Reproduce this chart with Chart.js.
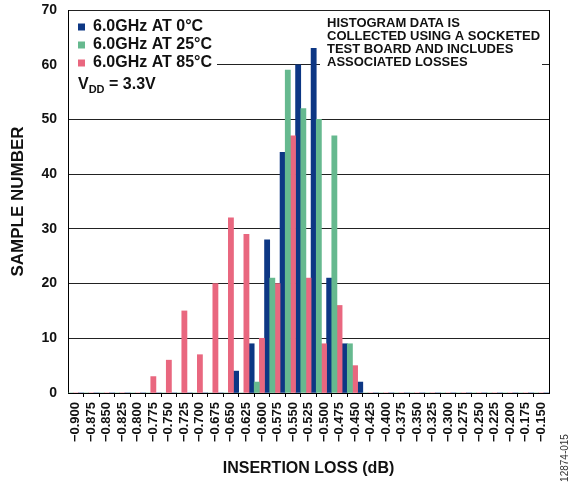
<!DOCTYPE html>
<html>
<head>
<meta charset="utf-8">
<script src="https://cdn.jsdelivr.net/npm/chart.js@4"></script>
<style>
  body { margin: 0; background: #fff; }
  canvas { display: block; }
</style>
</head>
<body>
<canvas id="histChart" width="570" height="486"></canvas>
<script>
// insertion loss bins (dB)
const lossLabels = [
    '−0.900', '−0.875', '−0.850', '−0.825', '−0.800', '−0.775', '−0.750', '−0.725',
    '−0.700', '−0.675', '−0.650', '−0.625', '−0.600', '−0.575', '−0.550', '−0.525',
    '−0.500', '−0.475', '−0.450', '−0.425', '−0.400', '−0.375', '−0.350', '−0.325',
    '−0.300', '−0.275', '−0.250', '−0.225', '−0.200', '−0.175', '−0.150'
];

// sample counts per bin
const at0C  = [0, 0, 0, 0, 0, 0, 0, 0, 0, 0, 4, 9, 28, 44, 60, 63, 21, 9, 2, 0, 0, 0, 0, 0, 0, 0, 0, 0, 0, 0, 0];
const at25C = [0, 0, 0, 0, 0, 0, 0, 0, 0, 0, 0, 0, 2, 21, 59, 52, 50, 47, 9, 0, 0, 0, 0, 0, 0, 0, 0, 0, 0, 0, 0];
const at85C = [0, 0, 0, 0, 0, 3, 6, 15, 7, 20, 32, 29, 10, 20, 47, 21, 9, 16, 5, 0, 0, 0, 0, 0, 0, 0, 0, 0, 0, 0, 0];

const noteLines = ['HISTOGRAM DATA IS', 'COLLECTED USING A SOCKETED', 'TEST BOARD AND INCLUDES', 'ASSOCIATED LOSSES'];

const FONT = 'Arial, "Liberation Sans", sans-serif';
const INK = '#111';

// legend shows 0C, 25C, 85C even though bars sit green/pink/blue in each bin
const legendRank = [1, 2, 0];

const extras = {
    id: 'extras',
    afterLayout(chart) {
        const a = chart.chartArea;
        const lg = chart.legend;
        lg.left = a.left + 8;
        lg.top = a.top + 7;
        lg.right = a.right;
        lg.bottom = a.bottom;
    },
    beforeDatasetsDraw(chart) {
        const ctx = chart.ctx;
        const a = chart.chartArea;
        ctx.save();
        // white boxes behind the legend and the note
        ctx.fillStyle = '#fff';
        ctx.fillRect(a.left + 1, a.top + 1, 148, 60);
        ctx.fillRect(a.left + 252, a.top + 1, 222, 60);
        ctx.restore();
        chart.legend.draw(a);

        ctx.save();
        ctx.fillStyle = INK;
        ctx.textBaseline = 'middle';
        ctx.textAlign = 'left';
        ctx.font = 'bold 13px ' + FONT;
        noteLines.forEach((t, i) => ctx.fillText(t, a.left + 259, a.top + 13 + i * 13));

        // V_DD = 3.3V
        let x = a.left + 10;
        const y = a.top + 75;
        ctx.font = 'bold 16px ' + FONT;
        ctx.fillText('V', x, y);
        x += ctx.measureText('V').width;
        ctx.font = 'bold 11px ' + FONT;
        ctx.fillText('DD', x, y + 5);
        x += ctx.measureText('DD').width;
        ctx.font = 'bold 16px ' + FONT;
        ctx.fillText(' = 3.3V', x, y);

        // right frame line
        ctx.strokeStyle = '#000';
        ctx.lineWidth = 1;
        ctx.beginPath();
        ctx.moveTo(a.right + 0.5, a.top);
        ctx.lineTo(a.right + 0.5, a.bottom);
        ctx.stroke();
        ctx.restore();
    },
    afterDraw(chart) {
        const ctx = chart.ctx;
        ctx.save();
        ctx.translate(565, 458);
        ctx.rotate(-Math.PI / 2);
        ctx.font = '10px ' + FONT;
        ctx.fillStyle = '#333';
        ctx.textAlign = 'center';
        ctx.textBaseline = 'middle';
        ctx.fillText('12874-015', 0, 0);
        ctx.restore();
    }
};

let data = {
    labels: lossLabels,
    datasets: [
        { label: '6.0GHz AT 25°C', data: at25C, backgroundColor: '#66b98f' },
        { label: '6.0GHz AT 85°C', data: at85C, backgroundColor: '#e9677f' },
        { label: '6.0GHz AT 0°C', data: at0C, backgroundColor: '#0d3784' }
    ]
};

let options = {
    responsive: false,
    animation: false,
    devicePixelRatio: 1,
    layout: { padding: { top: 10, right: 21, left: 0, bottom: 0 } },
    datasets: {
        bar: { barPercentage: 1, categoryPercentage: 1, borderWidth: 0 }
    },
    plugins: {
        tooltip: { enabled: false },
        legend: {
            position: 'chartArea',
            align: 'start',
            labels: {
                boxWidth: 7,
                boxHeight: 7,
                padding: 2,
                color: INK,
                font: { family: FONT, size: 16, weight: 'bold' },
                sort: (a, b) => legendRank[a.datasetIndex] - legendRank[b.datasetIndex]
            }
        }
    },
    scales: {
        x: {
            afterFit: (scale) => { scale.height = 93; },
            grid: {
                drawOnChartArea: false,
                drawTicks: true,
                tickLength: 4,
                tickColor: (c) => (c.index > 0 && c.index < lossLabels.length) ? '#000' : 'rgba(0,0,0,0)'
            },
            border: { display: true, color: '#000', width: 1 },
            ticks: {
                autoSkip: false,
                maxRotation: 90,
                minRotation: 90,
                padding: 5,
                color: INK,
                font: { family: FONT, size: 13, weight: 'bold' }
            },
            title: {
                display: true,
                text: 'INSERTION LOSS (dB)',
                color: INK,
                padding: { top: 0, bottom: 8 },
                font: { family: FONT, size: 16, weight: 'bold' }
            }
        },
        y: {
            min: 0,
            max: 70,
            afterFit: (scale) => {
                scale.width = 68;
                scale.paddingTop = 0;
                scale.paddingBottom = 0;
            },
            grid: { color: '#222', drawTicks: false },
            border: { display: true, color: '#000', width: 1 },
            ticks: {
                stepSize: 10,
                padding: 11,
                color: INK,
                font: { family: FONT, size: 14, weight: 'bold' }
            },
            title: {
                display: true,
                text: 'SAMPLE NUMBER',
                color: INK,
                padding: { top: 8, bottom: 0 },
                font: { family: FONT, size: 17, weight: 'bold' }
            }
        }
    }
};

let ctx = document.getElementById('histChart').getContext('2d');

let histChart = new Chart(ctx, {
    type: 'bar',
    data: data,
    options: options,
    plugins: [extras]
});
</script>
</body>
</html>
